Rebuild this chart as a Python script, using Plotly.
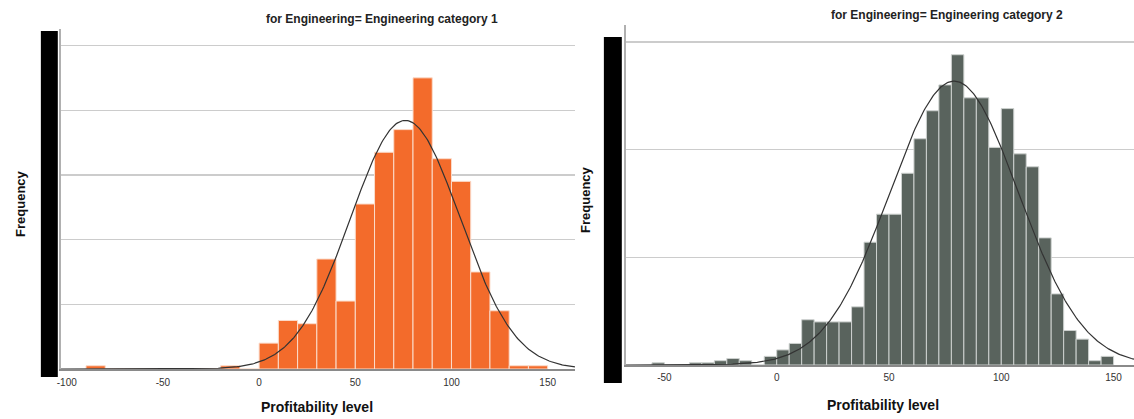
import numpy as np
import plotly.graph_objects as go

# ---------------- data ----------------
# Left panel: Engineering category 1 (bins of width 10, lower edge of first bin = -90)
left_bin_start = -90
left_bin_width = 10
left_counts = [1, 0, 0, 0, 0, 0, 0, 1, 0,
               8, 15, 14, 34, 21, 51, 67, 74, 90, 65, 58, 30, 18, 1, 1]
left_mean = 76.0
left_sd = 28.5

# Right panel: Engineering category 2 (bins of width 50/9, lower edge of first bin = -500/9)
right_bin_start = -500 / 9
right_bin_width = 50 / 9
right_counts = [1, 0, 0, 1, 1, 2, 3, 2, 0, 4,
                7, 10, 21, 20, 20, 20, 27, 57, 70, 70,
                89, 105, 118, 130, 144, 124, 124, 101, 119, 98,
                92, 59, 33, 16, 12, 2, 4]
right_mean = 79.0
right_sd = 28.7

x_tick_vals_left = [-100, -50, 0, 50, 100, 150]
x_tick_text_left = ["-100", "-50", "0", "50", "100", "150"]
x_tick_vals_right = [-50, 0, 50, 100, 150]
x_tick_text_right = ["-50", "0", "50", "100", "150"]

titles = ["for Engineering= Engineering category 1",
          "for Engineering= Engineering category 2"]
x_title = "Profitability level"
y_title = "Frequency"

# ---------------- layout helpers ----------------
W, H = 1134, 419


def px(x):
    return x / W


def py(y):
    return 1 - y / H


def centers(start, width, counts):
    return [start + width * (i + 0.5) for i in range(len(counts))]


def normal_curve(mean, sd, n, width, lo, hi):
    xs = np.linspace(lo, hi, 400)
    ys = n * width / (sd * np.sqrt(2 * np.pi)) * np.exp(-0.5 * ((xs - mean) / sd) ** 2)
    return xs, ys


left_range = [-103.1, 164.2]
right_range = [-67.2, 159.1]

fig = go.Figure()

fig.add_trace(go.Bar(
    x=centers(left_bin_start, left_bin_width, left_counts),
    y=left_counts, width=left_bin_width,
    marker=dict(color="#F36B2B", line=dict(color="#FBDCCB", width=1)),
    xaxis="x", yaxis="y", showlegend=False))
lx, ly = normal_curve(left_mean, left_sd, sum(left_counts), left_bin_width, *left_range)
fig.add_trace(go.Scatter(x=lx, y=ly, mode="lines", line=dict(color="#333333", width=1.2),
                         xaxis="x", yaxis="y", showlegend=False))

fig.add_trace(go.Bar(
    x=centers(right_bin_start, right_bin_width, right_counts),
    y=right_counts, width=right_bin_width,
    marker=dict(color="#59635D", line=dict(color="#CDD1CF", width=1)),
    xaxis="x2", yaxis="y2", showlegend=False))
rx, ry = normal_curve(right_mean, right_sd, sum(right_counts), right_bin_width, *right_range)
fig.add_trace(go.Scatter(x=rx, y=ry, mode="lines", line=dict(color="#333333", width=1.2),
                         xaxis="x2", yaxis="y2", showlegend=False))

tickfont = dict(family="Liberation Sans, Arial, sans-serif", size=10, color="#333333")
common_x = dict(showgrid=False, zeroline=False, showline=True, linecolor="#8A8A8A",
                linewidth=1.5, ticks="", tickfont=tickfont, fixedrange=True)
common_y = dict(showgrid=True, gridcolor="#CCCCCC", gridwidth=1.4, zeroline=False,
                showline=True, linecolor="#B0B0B0", linewidth=1.5, showticklabels=False,
                ticks="", fixedrange=True)

fig.update_layout(
    width=W, height=H,
    margin=dict(l=0, r=0, t=0, b=0),
    paper_bgcolor="white", plot_bgcolor="white",
    bargap=0,
    xaxis=dict(domain=[px(57), px(573)], range=left_range, tickvals=x_tick_vals_left,
               ticktext=x_tick_text_left, ticklabelstandoff=3, anchor="y", **common_x),
    yaxis=dict(domain=[py(369), py(29)], range=[0, 105.1], dtick=20, anchor="x", **common_y),
    xaxis2=dict(domain=[px(624), 1.0], range=right_range, tickvals=x_tick_vals_right,
                ticktext=x_tick_text_right, ticklabelstandoff=2, anchor="y2", **common_x),
    yaxis2=dict(domain=[py(365), py(25)], range=[0, 157.8], dtick=50, anchor="x2", **common_y),
    shapes=[
        dict(type="rect", xref="paper", yref="paper", x0=px(37), x1=px(54), y0=py(377), y1=py(31),
             fillcolor="black", line=dict(width=0), layer="above"),
        dict(type="rect", xref="paper", yref="paper", x0=px(602), x1=px(620), y0=py(383), y1=py(37),
             fillcolor="black", line=dict(width=0), layer="above"),
    ],
)

bold = "Liberation Sans, Arial, sans-serif"
ann = []
for (cx, cy), t in zip([(379, 19), (946, 15)], titles):
    ann.append(dict(text="<b>%s</b>" % t, x=px(cx), y=py(cy), xref="paper", yref="paper",
                    showarrow=False, xanchor="center", yanchor="middle",
                    font=dict(family=bold, size=12, color="#222222")))
for (cx, cy) in [(17, 203), (583, 199)]:
    ann.append(dict(text="<b>%s</b>" % y_title, x=px(cx), y=py(cy), xref="paper", yref="paper",
                    showarrow=False, xanchor="center", yanchor="middle", textangle=-90,
                    font=dict(family=bold, size=13, color="#111111")))
for (cx, cy) in [(314, 407), (882, 405)]:
    ann.append(dict(text="<b>%s</b>" % x_title, x=px(cx), y=py(cy), xref="paper", yref="paper",
                    showarrow=False, xanchor="center", yanchor="middle",
                    font=dict(family=bold, size=14, color="#111111")))
fig.update_layout(annotations=ann)

fig.write_html("out.html", config={"staticPlot": True},
               post_script="document.body.style.margin='0';document.body.style.overflow='hidden';")
